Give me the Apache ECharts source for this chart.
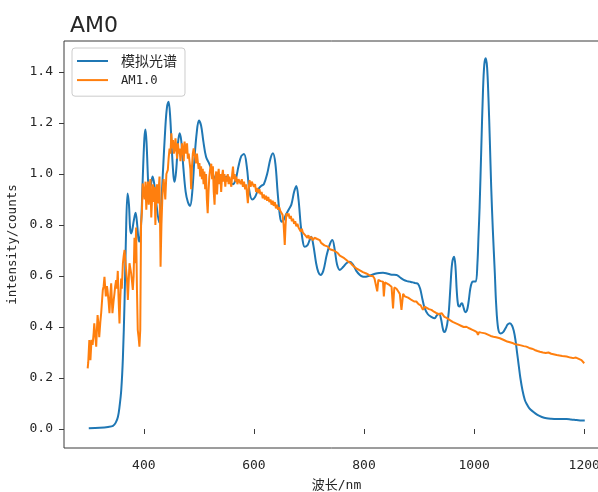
<!DOCTYPE html>
<html>
<head>
<meta charset="utf-8">
<script src="https://cdn.jsdelivr.net/npm/echarts@6/dist/echarts.min.js"></script>
<style>
  html, body { margin: 0; padding: 0; background: #fff; }
  #chart { width: 598px; height: 492px; }
</style>
</head>
<body>
<div id="chart"></div>
<script>
// Tick positions
const xTicks = [400, 600, 800, 1000, 1200];
const yTicks = [0.0, 0.2, 0.4, 0.6, 0.8, 1.0, 1.2, 1.4];

// Series names
const seriesNames = ['模拟光谱', 'AM1.0'];

// Simulated spectrum: [wavelength nm, intensity]
const simulated = [
  [300,0.003],[320,0.005],[335,0.008],[344,0.012],[349,0.025],[353,0.048],[356,0.09],[359,0.153],
  [362,0.28],[365,0.50],[367.5,0.75],[370.4,0.924],[373,0.88],[375,0.79],[377,0.767],[379,0.78],
  [382,0.82],[385,0.848],[388,0.80],[390,0.75],[392,0.735],[395,0.80],[398,0.98],[401,1.14],
  [403,1.175],[405,1.12],[408.5,0.94],[410,0.93],[413,0.96],[416,0.99],[419,0.96],[423,0.88],
  [428,0.81],[431,0.86],[435,1.02],[439,1.18],[442,1.26],[445,1.283],[448,1.22],[451,1.09],
  [454,0.99],[456,0.97],[459,1.02],[462,1.12],[465,1.16],[468,1.13],[472,1.02],[476,0.93],
  [480,0.89],[484,0.875],[488,0.93],[492,1.06],[496,1.16],[500,1.21],[504,1.19],[508,1.13],
  [513,1.068],[519,1.04],[524,1.01],[528.5,0.984],[535,0.97],[542,0.975],[550,0.99],[556,0.97],
  [562,0.96],[567,0.98],[572,1.03],[577,1.07],[582,1.078],[587,1.03],[592,0.93],[597,0.90],
  [602,0.91],[608,0.94],[613,0.953],[618,0.96],[624,1.00],[630,1.06],[634.6,1.081],[639,1.04],
  [643,0.93],[647,0.84],[650,0.813],[654,0.82],[658,0.84],[663,0.86],[668,0.88],[673,0.93],
  [677,0.953],[681,0.90],[685,0.80],[688.5,0.74],[692,0.715],[697,0.72],[701,0.74],[704,0.754],
  [708,0.72],[713,0.65],[717,0.615],[721,0.604],[726,0.62],[732,0.68],[738,0.725],[742.5,0.741],
  [747,0.70],[751,0.645],[756,0.624],[762,0.635],[768,0.65],[774,0.656],[780,0.645],[786,0.62],
  [792,0.605],[797,0.598],[801,0.597],[808,0.60],[815,0.605],[822,0.61],[828,0.612],[834.5,0.613],
  [842,0.61],[850,0.605],[859,0.604],[865,0.595],[872,0.585],[878,0.58],[883,0.578],[889,0.575],
  [893,0.572],[898,0.569],[902,0.55],[906,0.51],[910,0.475],[916,0.45],[922,0.44],[928.5,0.434],
  [932,0.445],[936.5,0.452],[940,0.43],[943,0.395],[945.5,0.38],[948,0.385],[951,0.41],[954,0.46],
  [957,0.56],[960,0.65],[963.6,0.676],[966,0.64],[968.5,0.54],[971,0.485],[973.5,0.48],[976,0.49],
  [978,0.493],[981,0.475],[984,0.458],[987,0.465],[990,0.50],[993,0.55],[996,0.575],[999,0.578],
  [1003,0.578],[1006,0.65],[1008,0.76],[1010,0.872],[1013,1.10],[1016,1.32],[1018.5,1.43],[1021,1.454],
  [1023.5,1.42],[1026,1.30],[1028.5,1.133],[1031,0.95],[1034,0.78],[1037.6,0.611],[1040,0.49],[1043.6,0.395],
  [1048,0.375],[1052.7,0.38],[1057,0.395],[1061,0.41],[1065,0.415],[1069,0.405],[1072,0.385],[1075,0.35],
  [1078,0.30],[1081,0.25],[1084,0.2],[1088,0.15],[1092,0.115],[1095,0.1],[1100,0.082],[1107,0.068],
  [1115,0.055],[1123,0.047],[1131.6,0.042],[1140,0.04],[1150,0.039],[1160,0.039],[1168,0.039],[1176,0.037],
  [1186,0.035],[1195,0.033],[1201,0.033]
];

// AM1.0 reference spectrum: [wavelength nm, intensity]
const am10 = [
  [298,0.238],[299,0.26],[301,0.349],[302,0.30],[303,0.27],[305,0.35],[307,0.33],[309,0.38],
  [310,0.414],[312,0.36],[313.5,0.323],[315,0.40],[316,0.447],[318,0.40],[319,0.36],[321,0.42],
  [322.5,0.454],[324,0.50],[325.5,0.545],[327,0.56],[328.5,0.597],[330,0.55],[331,0.52],[333,0.56],
  [334,0.545],[336,0.50],[337.6,0.454],[339,0.52],[340.7,0.571],[342,0.50],[343,0.454],[345,0.50],
  [346.6,0.53],[348,0.56],[349.7,0.584],[351,0.55],[352.7,0.62],[354,0.52],[355.8,0.414],[357,0.50],
  [358.8,0.59],[360,0.55],[362,0.65],[363.5,0.68],[365,0.702],[366.5,0.66],[368,0.62],[369.5,0.58],
  [371,0.506],[372.5,0.58],[374,0.65],[375.5,0.63],[377,0.61],[378.5,0.58],[380,0.545],[381.5,0.60],
  [383,0.75],[384.5,0.65],[386,0.79],[387.5,0.55],[389,0.388],[390.5,0.36],[392,0.323],[393.5,0.388],
  [395,0.807],[396.5,0.85],[398,0.963],[400,0.96],[401.5,0.90],[403,0.97],[404.5,0.86],[406,0.93],
  [407.5,0.97],[409,0.88],[410.5,0.95],[412,0.98],[413.5,0.83],[415,0.90],[416.5,0.96],[418,0.89],
  [419.5,0.95],[421,0.80],[422.5,0.92],[424,0.96],[425.5,0.885],[427,0.94],[428.5,0.99],[430.4,0.636],
  [432,0.80],[434,0.93],[436,0.98],[437.6,0.976],[439,0.90],[441,1.00],[443.6,1.016],[445,1.06],
  [446.7,1.10],[448.5,1.08],[450,1.16],[451.5,1.10],[453,1.133],[454.5,1.08],[456,1.094],[457.5,1.14],
  [459,1.10],[460.5,1.06],[462,1.12],[463.5,1.08],[465,1.10],[466.5,1.05],[468,1.081],[469.5,1.12],
  [471,1.09],[472.5,1.05],[474,1.127],[475.5,1.10],[477,1.08],[478.5,1.12],[480,1.06],[481.5,1.08],
  [483,1.081],[484.5,1.02],[486,0.94],[487.5,1.03],[489,1.08],[490.5,1.10],[492,1.107],[493.5,1.06],
  [495,1.042],[496.5,1.08],[498,1.05],[499.5,1.02],[501,1.043],[502.5,0.99],[504,1.03],[505.5,0.98],
  [507,1.02],[508.5,0.96],[510,1.01],[511.5,0.94],[513,1.00],[514.5,0.90],[516,0.846],[517.5,0.93],
  [519,0.99],[520.5,1.02],[522.5,1.04],[524,0.98],[525.5,1.03],[527,0.93],[528.5,0.88],[530,0.98],
  [531.5,1.01],[533,0.92],[534.5,0.99],[536,1.02],[537.5,0.96],[539,1.00],[540.5,0.93],[542,0.99],
  [543.6,1.016],[545,0.97],[546.5,1.00],[548,0.95],[549.5,0.99],[551,0.97],[552.5,1.00],[554,0.96],
  [555.5,0.99],[557,0.97],[559,0.95],[560.5,1.00],[562,1.029],[563.5,0.98],[565,1.00],[566.5,0.97],
  [568,0.99],[570,0.96],[572,0.98],[574,0.976],[576,0.96],[578,0.98],[580,0.95],[582,0.97],
  [584,0.94],[586,0.96],[587.5,0.92],[589,0.886],[590.5,0.94],[592,0.976],[594,0.95],[596,0.97],
  [598,0.97],[600,0.95],[602,0.96],[604,0.93],[606,0.945],[608,0.925],[610,0.94],[612,0.92],
  [614,0.93],[616,0.905],[618,0.92],[620,0.90],[622,0.915],[624,0.895],[626,0.91],[628,0.89],
  [630,0.90],[632,0.88],[634,0.895],[636,0.875],[638,0.89],[640,0.865],[642,0.88],[644,0.86],
  [646,0.87],[648,0.855],[650,0.852],[652,0.84],[654,0.80],[656,0.722],[657.5,0.80],[659,0.846],
  [661,0.835],[663,0.845],[665,0.825],[667,0.835],[669,0.815],[671,0.825],[673,0.805],[675,0.815],
  [677,0.795],[679,0.805],[681,0.79],[683,0.795],[685,0.775],[687,0.785],[689,0.77],[691,0.775],
  [693,0.76],[695,0.765],[697,0.75],[699,0.76],[701,0.745],[704,0.754],[707,0.74],
  [710,0.75],[715,0.745],[719.5,0.741],[722,0.73],[725,0.735],[728,0.72],[731,0.725],[734.5,0.715],
  [738,0.705],[741,0.71],[745,0.70],[749,0.695],[752.7,0.689],[756,0.68],[760,0.675],[764,0.67],
  [768,0.663],[772,0.655],[776,0.65],[780,0.64],[783,0.645],[786,0.63],[790,0.625],[794,0.62],
  [798,0.615],[801,0.61],[804,0.61],[808,0.605],[812,0.60],[816,0.60],[819,0.59],[822.5,0.591],
  [824,0.54],[826,0.585],[830,0.58],[834.5,0.578],[836,0.52],[838,0.575],[842,0.57],[846,0.565],
  [850,0.558],[852.7,0.473],[855,0.555],[859,0.55],[862,0.54],[865,0.53],[868,0.467],[871,0.53],
  [874,0.52],[877,0.519],[880,0.515],[883,0.512],[887,0.505],[891,0.50],[895,0.50],[899,0.49],
  [903,0.485],[907,0.467],[910,0.48],[914,0.475],[918,0.47],[922.5,0.467],[927,0.46],[931,0.455],
  [936,0.45],[941,0.454],[946,0.44],[951,0.435],[956,0.427],[961,0.42],[966,0.415],[971,0.41],
  [976,0.405],[981,0.40],[986,0.401],[991,0.395],[996,0.39],[1001,0.385],[1005,0.38],[1007,0.369],
  [1009,0.38],[1013,0.378],[1016,0.382],[1020,0.375],[1025,0.37],[1030,0.365],[1035,0.362],[1040,0.36],
  [1046.7,0.356],[1050,0.35],[1055,0.348],[1060,0.343],[1065,0.34],[1071,0.336],[1075,0.332],[1080,0.33],
  [1085,0.328],[1090,0.325],[1095,0.323],[1100,0.318],[1105,0.315],[1110,0.31],[1115,0.306],[1119.5,0.303],
  [1125,0.30],[1130,0.298],[1135,0.30],[1140,0.295],[1143.6,0.297],[1150,0.29],[1155,0.288],[1160,0.286],
  [1168,0.284],[1175,0.28],[1180,0.278],[1185,0.28],[1190,0.275],[1192,0.277],[1195,0.27],[1198,0.272],
  [1200,0.258]
];

const monoFont = '"DejaVu Sans Mono", "Noto Sans CJK SC", monospace';
const cjkFont = '"Noto Sans CJK SC", sans-serif';
const inkColor = '#262626';
const spineColor = '#3a3a3a';

const chart = echarts.init(document.getElementById('chart'), null, { renderer: 'canvas' });

chart.setOption({
  animation: false,
  backgroundColor: '#ffffff',
  title: {
    text: 'AM0',
    left: 65,
    top: 10,
    textStyle: { fontFamily: '"DejaVu Sans", sans-serif', fontSize: 22, fontWeight: 'normal', color: inkColor }
  },
  grid: {
    left: 64, top: 41, width: 545, height: 407,
    outerBoundsMode: 'none',
    containLabel: false,
    show: true, borderColor: spineColor, borderWidth: 1, backgroundColor: 'transparent'
  },
  legend: {
    orient: 'vertical',
    left: 72, top: 48,
    padding: [6, 8, 9, 5],
    icon: 'rect',
    itemWidth: 31, itemHeight: 2, itemGap: 5,
    backgroundColor: 'rgba(255,255,255,0.8)',
    borderColor: '#cccccc', borderWidth: 1, borderRadius: 3,
    formatter: name => (/^[\x00-\x7f]+$/.test(name) ? '{m|' + name + '}' : '{c|' + name + '}'),
    textStyle: {
      color: inkColor, padding: [0, 0, 0, 8],
      rich: {
        c: { fontFamily: cjkFont, fontSize: 14, lineHeight: 14, verticalAlign: 'middle', color: inkColor },
        m: { fontFamily: monoFont, fontSize: 12.2, lineHeight: 14, verticalAlign: 'middle', padding: [2, 0, 0, 0], color: inkColor }
      }
    },
    data: seriesNames
  },
  xAxis: {
    type: 'value',
    min: 255, max: 1245,
    name: '波长/nm',
    nameLocation: 'middle',
    nameGap: 31,
    nameTextStyle: { fontFamily: monoFont, fontSize: 13, color: inkColor },
    axisLine: { show: false },
    axisTick: { show: true, length: 5, lineStyle: { color: spineColor }, customValues: xTicks },
    axisLabel: {
      margin: 11, fontFamily: monoFont, fontSize: 13, color: inkColor, customValues: xTicks,
      formatter: v => String(v)
    },
    splitLine: { show: false }
  },
  yAxis: {
    type: 'value',
    min: -0.0745, max: 1.5216,
    name: 'intensity/counts',
    nameLocation: 'middle',
    nameGap: 36,
    nameTextStyle: { fontFamily: monoFont, fontSize: 12.5, color: inkColor },
    axisLine: { show: false },
    axisTick: { show: true, length: 5, lineStyle: { color: spineColor }, customValues: yTicks },
    axisLabel: {
      margin: 11, fontFamily: monoFont, fontSize: 13, color: inkColor, customValues: yTicks,
      formatter: v => v.toFixed(1)
    },
    splitLine: { show: false }
  },
  series: [
    {
      name: seriesNames[0],
      type: 'line',
      data: simulated,
      symbol: 'none',
      smooth: 0.35,
      lineStyle: { color: '#1f77b4', width: 2 },
      itemStyle: { color: '#1f77b4' }
    },
    {
      name: seriesNames[1],
      type: 'line',
      data: am10,
      symbol: 'none',
      lineStyle: { color: '#ff7f0e', width: 2 },
      itemStyle: { color: '#ff7f0e' }
    }
  ]
});
</script>
</body>
</html>
